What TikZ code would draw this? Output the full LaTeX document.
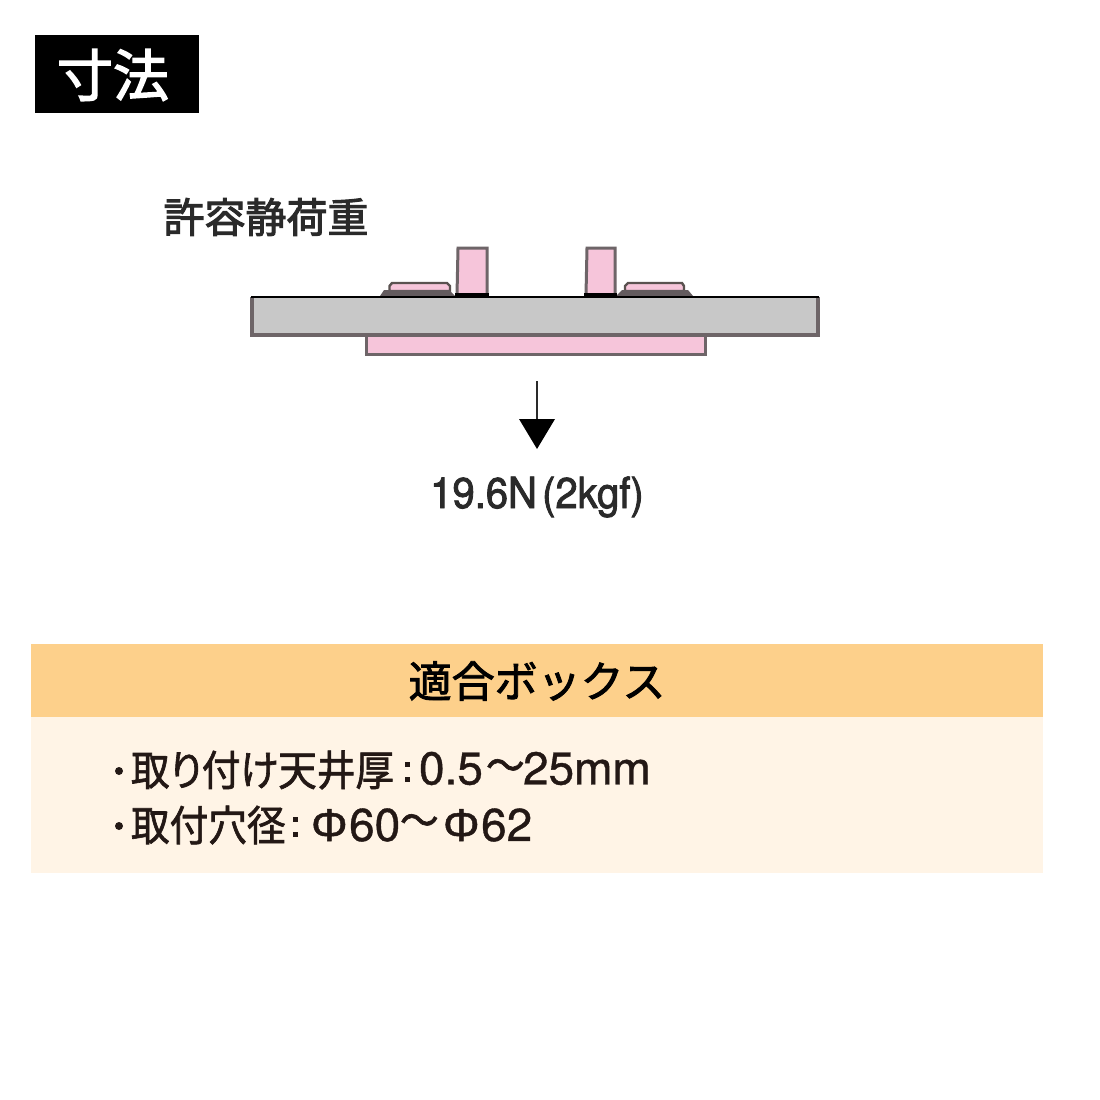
\documentclass[tikz,border=0pt]{standalone}
\usepackage{fontspec}
\setmainfont{Noto Sans CJK JP}
\newfontfamily\titlefont[FakeBold=2.5]{Noto Sans CJK JP}
\newfontfamily\softfont[FakeBold=2.5]{Noto Sans CJK JP}
\newfontfamily\headfont[FakeBold=2]{Noto Sans CJK JP}
\newfontfamily\bodyfont[FakeBold=1.5,FakeStretch=.92,RawFeature=+palt]{Noto Sans CJK JP}
\newfontfamily\latnfont[FakeBold=.8]{TeX Gyre Heros}
\newfontfamily\phifont[FakeBold=1]{Liberation Sans}
\newfontfamily\forcefont[FakeBold=2,FakeStretch=.93]{TeX Gyre Heros}
\definecolor{band}{HTML}{FDD08B}
\definecolor{panel}{HTML}{FFF4E6}
\definecolor{ink}{HTML}{231815}
\definecolor{pinkf}{HTML}{F6C5DA}
\definecolor{greyf}{HTML}{C8C8C8}
\definecolor{edgeg}{HTML}{6E6568}
\definecolor{softk}{HTML}{2A2A2A}
\tikzset{
  x=1pt,y=-1pt,
  cjkbody/.style={inner sep=0pt,outer sep=0pt,text=ink,anchor=west,font=\bodyfont\fontsize{42}{42}\selectfont},
  latnbody/.style={inner sep=0pt,outer sep=0pt,text=ink,anchor=west,font=\latnfont\fontsize{46}{46}\selectfont},
  soft/.style={inner sep=0pt,outer sep=0pt,text=softk},
  part/.style={fill=pinkf,draw=edgeg,line width=3pt},
  flange/.style={fill=edgeg!90!black,draw=none},
  capstrip/.style={fill=pinkf,draw=ink!75,line width=2.4pt},
}
\begin{document}
\begin{tikzpicture}
\useasboundingbox (0,0) rectangle (1100,1100);
\fill[white] (0,0) rectangle (1100,1100);
% title
\fill[black] (35,35) rectangle (199,113);
\node[inner sep=0pt,text=white,font=\titlefont\fontsize{56}{56}\selectfont] (title) at (113,75) {寸法};
% load label
\node[soft,font=\softfont\fontsize{41}{41}\selectfont] (load) at (266,217) {許容静荷重};
% flanges
\path[capstrip] (389.5,291) -- (389.5,286) -- (392,283) -- (447,283) -- (450,286) -- (450,291) -- cycle;
\fill[flange] (380,296) -- (384,290) -- (449,290) -- (455,296) -- cycle;
\path[capstrip] (625,291) -- (625,286) -- (628,283) -- (682,283) -- (684,286) -- (684,291) -- cycle;
\fill[flange] (616,296) -- (622,290) -- (688,290) -- (693,296) -- cycle;
% posts
\path[part] (457,295) -- (458,248) -- (487,248) -- (487,295) -- cycle;
\path[part] (586,295) -- (587,248) -- (615,248) -- (615,295) -- cycle;
\fill[black] (455,292.5) rectangle (489,297);
\fill[black] (584,292.5) rectangle (617,297);
% bottom plate and ceiling
\path[part] (366,335) rectangle (705.5,354.5);
\fill[greyf] (252,297) rectangle (818,335);
\draw[edgeg,line width=3.5pt] (252,297) -- (252,335) -- (818,335) -- (818,297);
\draw[black,line width=2.5pt] (251,297) -- (819,297);
% load arrow
\coordinate (ftop) at (537,381);
\coordinate (ftip) at (537,449);
\draw[softk,line width=2.4pt] (ftop) -- (537,425);
\fill[black] (519,419) -- (555,419) -- (ftip) -- cycle;
\node[soft,font=\forcefont\fontsize{43}{43}\selectfont] (force) at (537,497) {19.6N\hspace{.12em}(2kgf)};
% table
\fill[band] (31,644) rectangle (1043,717);
\fill[panel] (31,717) rectangle (1043,873);
\node[inner sep=0pt,text=black,font=\headfont\fontsize{43}{43}\selectfont] (head) at (537,681) {適合ボックス};
\fill[ink] (119,771) circle (4);
\node[cjkbody] (l1a) at (131,770) {取り付け天井厚};
\fill[ink] (405,762) rectangle (410,767);
\fill[ink] (405,777) rectangle (410,782);
\node[latnbody] (l1b) at (419,768.5) {0.5};
\node[cjkbody] (l1c) at (486,770) {〜};
\node[latnbody] (l1d) at (523,768.5) {25mm};
\fill[ink] (119,826) circle (4);
\node[cjkbody] (l2a) at (131,825) {取付穴径};
\fill[ink] (293,817) rectangle (298,822);
\fill[ink] (293,832) rectangle (298,837);
\node[latnbody] (l2b) at (311,825) {{\phifont Φ}\hspace{.03em}60};
\node[cjkbody] (l2c) at (400,825) {〜};
\node[latnbody] (l2d) at (443,825) {{\phifont Φ}\hspace{.03em}62};
\end{tikzpicture}
\end{document}
